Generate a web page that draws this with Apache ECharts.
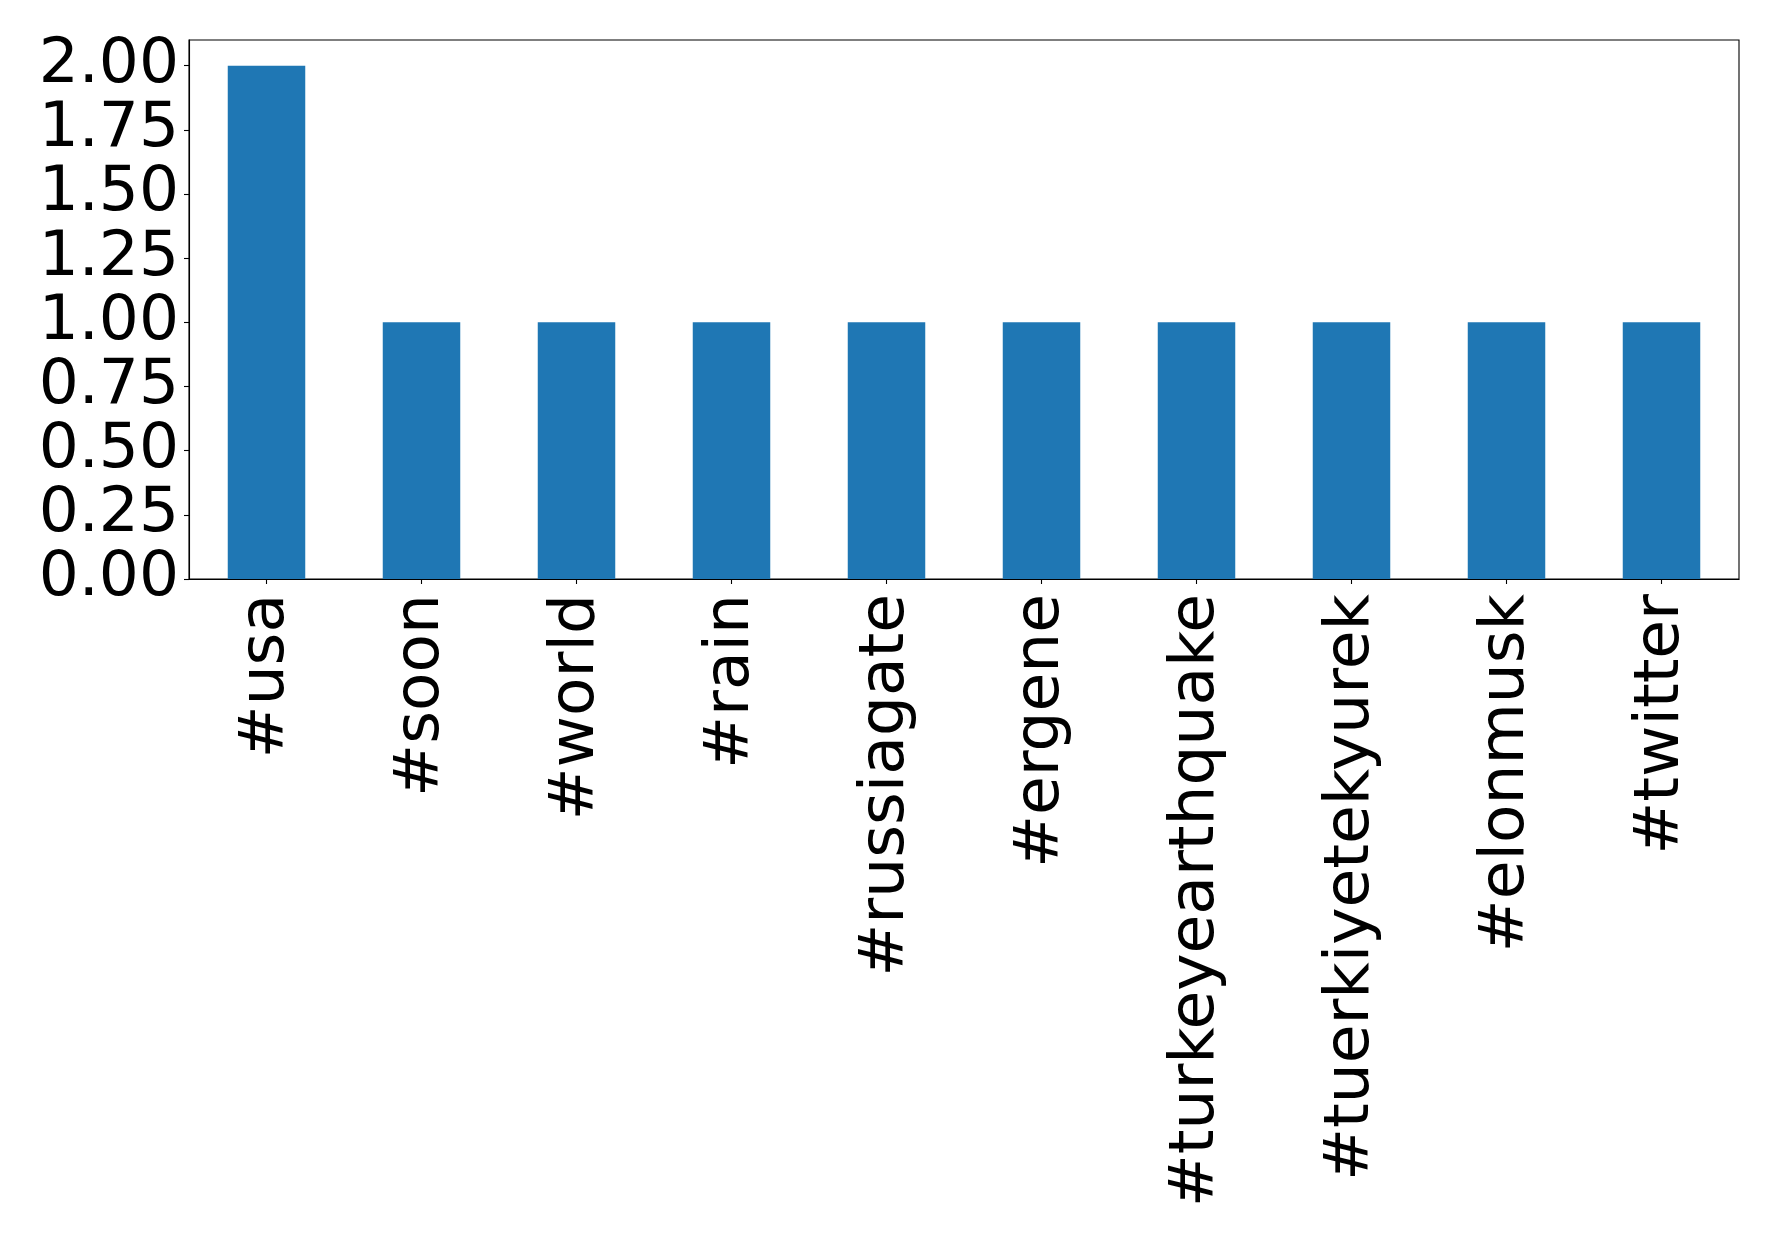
<!DOCTYPE html>
<html>
<head>
<meta charset="utf-8">
<script src="https://cdn.jsdelivr.net/npm/echarts@6/dist/echarts.min.js"></script>
<style>
html,body{margin:0;padding:0;background:#fff;}
#chart{width:1778px;height:1236px;}
</style>
</head>
<body>
<div id="chart"></div>
<script>
const categories = ['#usa', '#soon', '#world', '#rain', '#russiagate', '#ergene', '#turkeyearthquake', '#tuerkiyetekyurek', '#elonmusk', '#twitter'];
const counts = [2, 1, 1, 1, 1, 1, 1, 1, 1, 1];
const yTicks = [0, 0.25, 0.5, 0.75, 1.0, 1.25, 1.5, 1.75, 2.0];

const chart = echarts.init(document.getElementById('chart'), null, {renderer: 'canvas'});
const font = 'DejaVu Sans';
chart.setOption({
  animation: false,
  backgroundColor: '#ffffff',
  grid: {
    left: 189, right: 39, top: 40, bottom: 657,
    containLabel: false,
    show: true, borderColor: '#000000', borderWidth: 1.1, backgroundColor: 'transparent'
  },
  xAxis: {
    type: 'category',
    data: categories,
    boundaryGap: true,
    axisLine: {show: true, lineStyle: {color: '#000', width: 1.1}},
    axisTick: {show: true, alignWithLabel: true, length: 5, lineStyle: {color: '#000', width: 1.1}},
    axisLabel: {
      rotate: 90, interval: 0, margin: 15,
      fontFamily: font, fontSize: 63, color: '#000'
    },
    splitLine: {show: false}
  },
  yAxis: {
    type: 'value',
    min: 0, max: 2.1,
    axisLine: {show: true, lineStyle: {color: '#000', width: 1.1}},
    axisTick: {show: true, length: 5, customValues: yTicks, lineStyle: {color: '#000', width: 1.1}},
    axisLabel: {
      customValues: yTicks, margin: 10,
      fontFamily: font, fontSize: 63, color: '#000',
      formatter: v => v.toFixed(2)
    },
    splitLine: {show: false}
  },
  series: [{
    type: 'bar',
    data: counts,
    barWidth: '50%',
    itemStyle: {color: '#1f77b4'}
  }]
});
</script>
</body>
</html>
